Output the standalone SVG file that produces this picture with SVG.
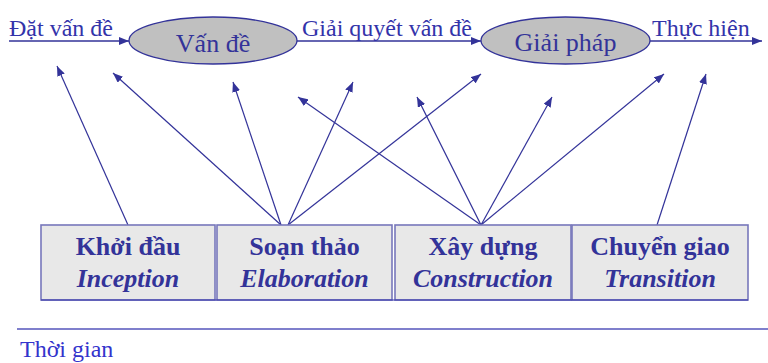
<svg xmlns="http://www.w3.org/2000/svg" width="768" height="363" viewBox="0 0 768 363">
<defs>
<marker id="ah" viewBox="0 0 10 8" refX="10" refY="4" markerWidth="10" markerHeight="8" markerUnits="userSpaceOnUse" orient="auto">
<path d="M0,0 L10,4 L0,8 Z" fill="#333399"/>
</marker>
<style>
.lbl{font-family:"Liberation Serif","Times New Roman",serif;font-size:24px;fill:#3333aa}
.ell{fill:#c0c0c0;stroke:#333399;stroke-width:1.3}
.etx{font-family:"Liberation Serif","Times New Roman",serif;font-size:26px;fill:#333399;text-anchor:middle}
.box{fill:#e8e8e8;stroke:#7777bb;stroke-width:1.6}
.bt{font-family:"Liberation Serif","Times New Roman",serif;font-size:26px;font-weight:bold;fill:#333399;text-anchor:middle}
.bi{font-style:italic}
.c{stroke:#333399;stroke-width:1.2;fill:none;marker-end:url(#ah)}
.flow{stroke:#333399;stroke-width:1.3;fill:none;marker-end:url(#ah)}
</style>
</defs>
<g id="flow">
<line class="flow" x1="9" y1="41" x2="129" y2="41"/>
<line class="flow" x1="297" y1="41" x2="481" y2="41"/>
<line class="flow" x1="650" y1="41" x2="762" y2="41"/>
</g>
<g id="labels">
<text class="lbl" x="9" y="36">Đặt vấn đề</text>
<text class="lbl" x="302" y="36">Giải quyết vấn đề</text>
<text class="lbl" x="652" y="36">Thực hiện</text>
</g>
<g id="van-de">
<ellipse class="ell" cx="213" cy="40.5" rx="84" ry="23.5"/>
<text class="etx" x="213" y="52">Vấn đề</text>
</g>
<g id="giai-phap">
<ellipse class="ell" cx="565.5" cy="40.5" rx="84.5" ry="23.5"/>
<text class="etx" x="565.5" y="51">Giải pháp</text>
</g>
<g id="connectors">
<line class="c" x1="128" y1="225" x2="57" y2="66"/>
<line class="c" x1="281" y1="225" x2="113" y2="73"/>
<line class="c" x1="281" y1="225" x2="233" y2="82"/>
<line class="c" x1="288" y1="225" x2="353" y2="82"/>
<line class="c" x1="288" y1="225" x2="481" y2="74"/>
<line class="c" x1="481" y1="225" x2="298" y2="97"/>
<line class="c" x1="481" y1="225" x2="417" y2="97"/>
<line class="c" x1="481" y1="225" x2="552" y2="97"/>
<line class="c" x1="481" y1="225" x2="664" y2="74"/>
<line class="c" x1="657" y1="225" x2="706" y2="74"/>
</g>
<g id="khoi-dau">
<rect class="box" x="41" y="225" width="174" height="75"/>
<text class="bt" x="128" y="255">Khởi đầu</text>
<text class="bt bi" x="128" y="287">Inception</text>
</g>
<g id="soan-thao">
<rect class="box" x="217" y="225" width="175" height="75"/>
<text class="bt" x="304.5" y="255">Soạn thảo</text>
<text class="bt bi" x="304.5" y="287">Elaboration</text>
</g>
<g id="xay-dung">
<rect class="box" x="395" y="225" width="176" height="75"/>
<text class="bt" x="483" y="255">Xây dựng</text>
<text class="bt bi" x="483" y="287">Construction</text>
</g>
<g id="chuyen-giao">
<rect class="box" x="572" y="225" width="176" height="75"/>
<text class="bt" x="660" y="255">Chuyển giao</text>
<text class="bt bi" x="660" y="287">Transition</text>
</g>
<line x1="41" y1="300" x2="748" y2="300" stroke="#3333aa" stroke-width="1.2"/>
<g id="time">
<line x1="17" y1="329" x2="768" y2="329" stroke="#5555bb" stroke-width="1.3"/>
<text x="20" y="357" style="font-family:'Liberation Serif','Times New Roman',serif;font-size:24px;fill:#3333cc">Thời gian</text>
</g>
</svg>
